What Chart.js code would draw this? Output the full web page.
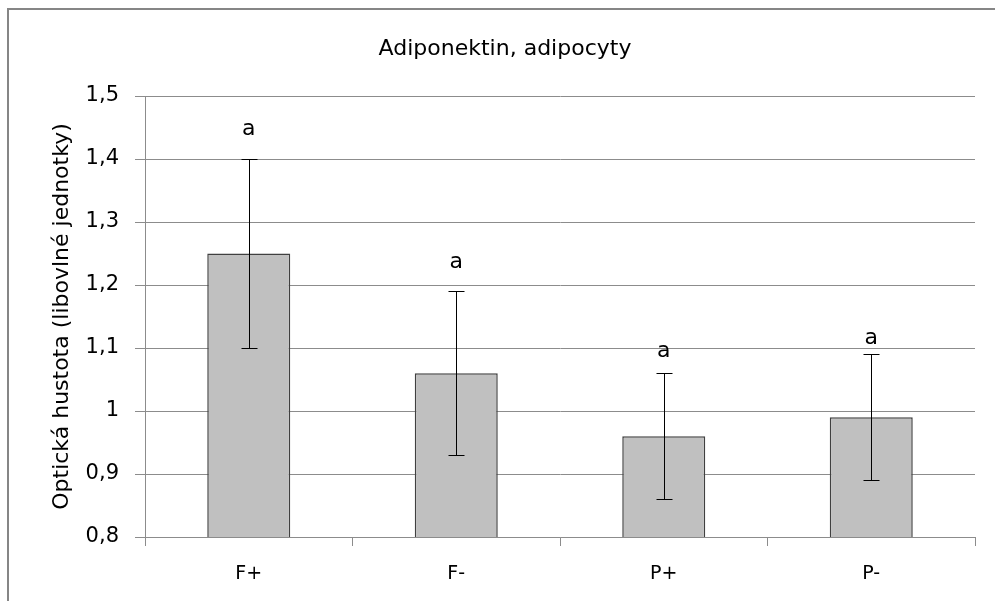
<!DOCTYPE html>
<html>
<head>
<meta charset="utf-8">
<script src="https://cdn.jsdelivr.net/npm/chart.js@4"></script>
<style>
  body { margin: 0; background: #fff; }
  #graf { display: block; }
</style>
</head>
<body>
<canvas id="graf" width="995" height="601"></canvas>
<script>
// Data
const skupiny = ['F+', 'F-', 'P+', 'P-'];
const hodnoty = [1.25, 1.06, 0.96, 0.99];
const chyby = [0.15, 0.13, 0.10, 0.10];
const oznaceni = ['a', 'a', 'a', 'a'];
const osaYMin = 0.8;
const osaYMax = 1.5;
const osaYKrok = 0.1;

// Umístění písmen nad sloupci (v jednotkách osy y, účaří textu)
const popiskyY = [1.438, 1.227, 1.086, 1.106];

const barvaMrizky = '#8c8c8c';
const pismo = '"DejaVu Sans", sans-serif';

// Chybové úsečky a písmena nad sloupci
const chybovePlugin = {
    id: 'chybove',
    afterDatasetsDraw(chart) {
        const ctx = chart.ctx;
        const meta = chart.getDatasetMeta(0);
        const y = chart.scales.y;
        ctx.save();
        ctx.strokeStyle = '#000';
        ctx.lineWidth = 1;
        meta.data.forEach((bar, i) => {
            const x = Math.round(bar.x) + 0.5;
            const yHorni = Math.round(y.getPixelForValue(hodnoty[i] + chyby[i])) + 0.5;
            const yDolni = Math.round(y.getPixelForValue(hodnoty[i] - chyby[i])) + 0.5;
            ctx.beginPath();
            ctx.moveTo(x, yHorni);
            ctx.lineTo(x, yDolni);
            ctx.moveTo(x - 8, yHorni);
            ctx.lineTo(x + 8, yHorni);
            ctx.moveTo(x - 8, yDolni);
            ctx.lineTo(x + 8, yDolni);
            ctx.stroke();

            ctx.fillStyle = '#000';
            ctx.font = '22px ' + pismo;
            ctx.textAlign = 'center';
            ctx.textBaseline = 'alphabetic';
            ctx.fillText(oznaceni[i], bar.x, y.getPixelForValue(popiskyY[i]));
        });
        ctx.restore();
    }
};

// Rámeček a nadpis
const ramecekPlugin = {
    id: 'ramecek',
    beforeDraw(chart) {
        const ctx = chart.ctx;
        ctx.save();
        ctx.fillStyle = '#fff';
        ctx.fillRect(0, 0, chart.width, chart.height);
        ctx.strokeStyle = '#868686';
        ctx.lineWidth = 2;
        ctx.strokeRect(8, 9, chart.width + 20, chart.height + 20);
        ctx.fillStyle = '#000';
        ctx.font = '22px ' + pismo;
        ctx.textAlign = 'center';
        ctx.textBaseline = 'alphabetic';
        ctx.fillText('Adiponektin, adipocyty', 505, 55);
        ctx.restore();
    }
};

new Chart(document.getElementById('graf').getContext('2d'), {
    type: 'bar',
    data: {
        labels: skupiny,
        datasets: [{
            data: hodnoty,
            backgroundColor: '#c0c0c0',
            borderColor: '#404040',
            borderWidth: 1.5,
            borderSkipped: false,
            barPercentage: 0.4,
            categoryPercentage: 1.0
        }]
    },
    options: {
        responsive: false,
        animation: false,
        layout: {
            padding: { left: 0, right: 20, top: 96, bottom: 0 }
        },
        plugins: {
            legend: { display: false },
            title: { display: false },
            tooltip: { enabled: false }
        },
        scales: {
            x: {
                offset: true,
                afterFit(scale) { scale.height = 64; },
                grid: {
                    offset: true,
                    drawOnChartArea: false,
                    color: barvaMrizky,
                    tickLength: 9
                },
                border: { color: barvaMrizky, width: 1 },
                ticks: {
                    color: '#000',
                    font: { family: pismo, size: 19 },
                    padding: 17
                }
            },
            y: {
                min: osaYMin,
                max: osaYMax,
                afterFit(scale) { scale.width = 145; },
                grid: {
                    color: barvaMrizky,
                    tickLength: 10
                },
                border: { color: barvaMrizky, width: 1 },
                ticks: {
                    stepSize: osaYKrok,
                    color: '#000',
                    font: { family: pismo, size: 21 },
                    padding: 16,
                    callback: v => String(Math.round(v * 10) / 10).replace('.', ',')
                },
                title: {
                    display: true,
                    text: 'Optická hustota (libovlné jednotky)',
                    color: '#000',
                    font: { family: pismo, size: 22 },
                    padding: { top: 49, bottom: 0 }
                }
            }
        }
    },
    plugins: [ramecekPlugin, chybovePlugin]
});
</script>
</body>
</html>
